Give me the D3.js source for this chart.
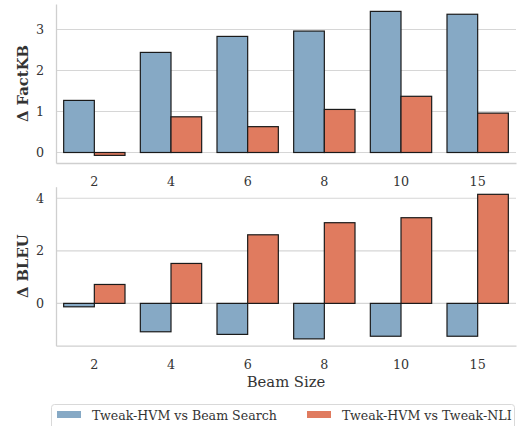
<!DOCTYPE html>
<html>
  <head>
    <meta charset="utf-8">
    <script src="https://d3js.org/d3.v7.min.js"></script>
    <style>
      body { margin: 0px; background: #fff; }
      svg text { font-family: "DejaVu Serif", "Liberation Serif", serif; fill: #333; }
      .tick text { font-size: 12.7px; }
      .ylab { font-size: 14.8px; font-weight: bold; }
      .xlab { font-size: 14.8px; }
      .leg { font-size: 12.6px; }
    </style>
  </head>
  <body>
    <svg width="521" height="426"></svg>
    <script>
      const beams = ['2', '4', '6', '8', '10', '15'];
      const seriesNames = ['Tweak-HVM vs Beam Search', 'Tweak-HVM vs Tweak-NLI'];
      const factBeam = [1.27, 2.44, 2.83, 2.96, 3.44, 3.37];
      const factNli = [-0.07, 0.87, 0.63, 1.05, 1.37, 0.96];
      const bleuBeam = [-0.13, -1.08, -1.18, -1.35, -1.25, -1.25];
      const bleuNli = [0.72, 1.52, 2.61, 3.07, 3.26, 4.15];
      const factTicks = [0, 1, 2, 3];
      const bleuTicks = [0, 2, 4];
      const colors = ['#86a9c5', '#e07b5f'];

      const svg = d3.select('svg');
      const left = 56, right = 516;

      const x = d3.scaleBand().domain(beams).range([left, right]).paddingInner(0.2).paddingOuter(0.1);
      const sub = d3.scaleBand().domain([0, 1]).range([0, x.bandwidth()]);

      function panel(top, bottom, domain, ticks, a, b, label) {
        const y = d3.scaleLinear().domain(domain).range([bottom, top]);
        const g = svg.append('g');

        // grid
        g.selectAll('.grid').data(ticks).enter().append('line')
          .attr('x1', left).attr('x2', right)
          .attr('y1', d => y(d)).attr('y2', d => y(d))
          .attr('stroke', '#d6d6d6').attr('stroke-width', 1.1);

        const yAxis = d3.axisLeft(y).tickValues(ticks).tickFormat(d3.format('d')).tickSize(0).tickPadding(12);
        const yg = g.append('g').attr('transform', `translate(${left},0)`).call(yAxis);
        yg.select('.domain').attr('stroke', '#cfcfcf').attr('stroke-width', 1.3);

        const xAxis = d3.axisBottom(x).tickSize(0).tickPadding(14);
        const xg = g.append('g').attr('transform', `translate(0,${bottom})`).call(xAxis);
        xg.select('.domain').attr('stroke', '#cfcfcf').attr('stroke-width', 1.3);
        g.selectAll('.tick text').attr('font-family', null);

        [a, b].forEach((vals, s) => {
          g.selectAll('.bar' + s).data(vals).enter().append('rect')
            .attr('x', (d, i) => x(beams[i]) + sub(s))
            .attr('width', sub.bandwidth())
            .attr('y', d => y(Math.max(0, d)))
            .attr('height', d => Math.abs(y(d) - y(0)))
            .attr('fill', colors[s])
            .attr('stroke', '#1a1a1a').attr('stroke-width', 1.2);
        });

        svg.append('text').attr('class', 'ylab')
          .attr('transform', `translate(28,${(top + bottom) / 2}) rotate(-90)`)
          .attr('text-anchor', 'middle').text(label);
      }

      panel(4, 163, [-0.256, 3.62], factTicks, factBeam, factNli, 'Δ FactKB');
      panel(186.7, 345.7, [-1.61, 4.44], bleuTicks, bleuBeam, bleuNli, 'Δ BLEU');

      svg.append('text').attr('class', 'xlab')
        .attr('x', (left + right) / 2).attr('y', 387)
        .attr('text-anchor', 'middle').text('Beam Size');

      // legend
      const lg = svg.append('g');
      lg.append('rect').attr('x', 51.5).attr('y', 404.5).attr('width', 463).attr('height', 30)
        .attr('rx', 3).attr('fill', '#fff').attr('stroke', '#d9d9d9');
      const legX = [57, 307];
      seriesNames.forEach((n, i) => {
        lg.append('rect').attr('x', legX[i]).attr('y', 411).attr('width', 24).attr('height', 7)
          .attr('fill', colors[i]);
        lg.append('text').attr('class', 'leg').attr('x', legX[i] + 35).attr('y', 419.5).text(n);
      });
    </script>
  </body>
</html>
